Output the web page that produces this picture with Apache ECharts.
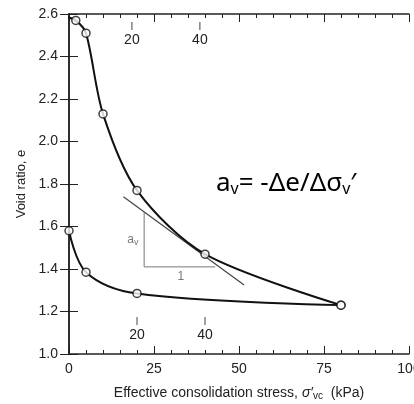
<!DOCTYPE html>
<html>
<head>
<meta charset="utf-8">
<script src="https://cdn.jsdelivr.net/npm/echarts@6/dist/echarts.min.js"></script>
<style>
  html, body { margin: 0; padding: 0; background: #fff; }
  #chart { width: 414px; height: 404px; }
</style>
</head>
<body>
<div id="chart"></div>
<script>
// loading branch (circles) and where the drawn curve starts
const loadStress = [2, 5, 10, 20, 40, 80];
const loadVoid = [2.57, 2.51, 2.13, 1.77, 1.47, 1.23];
const loadCurveStart = [-0.5, 2.585];

// unloading branch
const unloadStress = [80, 20, 5, 0];
const unloadVoid = [1.23, 1.285, 1.385, 1.58];

// tangent at 40 kPa and the slope triangle
const tangentStress = [16, 51.5];
const tangentVoid = [1.74, 1.325];
const triangleStress = [22.1, 22.1, 43];
const triangleVoid = [1.669, 1.41, 1.41];

// little stress markers drawn inside the frame
const topMarks = [18.5, 38.5];
const bottomMarks = [20, 40];

const xTicks = { min: 0, max: 100, interval: 25 };
const yTicks = { min: 1.0, max: 2.6, interval: 0.2 };

const zip = (a, b) => a.map((v, i) => [v, b[i]]);

const chart = echarts.init(document.getElementById('chart'));

const font = 'Liberation Sans, Arial, sans-serif';
const axisColor = '#222';

function markSeries(values, top) {
    return {
        type: 'custom',
        data: values.map(v => [v]),
        silent: true,
        z: 5,
        renderItem: (params, api) => {
            const x = api.value(0);
            const ref = api.coord([x, top ? yTicks.max : yTicks.min]);
            const y1 = top ? ref[1] + 8 : ref[1] - 37;
            const y2 = top ? ref[1] + 16 : ref[1] - 29;
            const yl = top ? ref[1] + 26 : ref[1] - 19;
            return {
                type: 'group',
                children: [
                    { type: 'line', shape: { x1: ref[0], y1: y1, x2: ref[0], y2: y2 }, style: { stroke: '#444', lineWidth: 1 } },
                    { type: 'text', x: ref[0], y: yl, style: { text: String(Math.round(x / 10) * 10), fontSize: 14, fontFamily: font, fill: axisColor, align: 'center', verticalAlign: 'middle' } }
                ]
            };
        }
    };
}

const xAxisBase = {
    type: 'value',
    min: xTicks.min,
    max: xTicks.max,
    interval: xTicks.interval,
    splitLine: { show: false },
    axisLine: { lineStyle: { color: axisColor, width: 1.5 } },
    axisTick: { inside: true, length: 8, lineStyle: { color: axisColor, width: 1 } },
    minorTick: { show: true, splitNumber: 5, length: 4, lineStyle: { color: axisColor, width: 1 } },
};

const yAxisBase = {
    type: 'value',
    min: yTicks.min,
    max: yTicks.max,
    interval: yTicks.interval,
    splitLine: { show: false },
    axisLine: { lineStyle: { color: axisColor, width: 1.5 } },
    axisTick: { inside: true, length: 9, lineStyle: { color: axisColor, width: 1 } },
};

const option = {
    backgroundColor: '#fff',
    animation: false,
    grid: { left: 69, right: 5, top: 14, bottom: 50, outerBoundsMode: 'none', containLabel: false },
    xAxis: [
        {
            ...xAxisBase,
            position: 'bottom',
            name: '{n|Effective consolidation stress, }{s|σ′}{sub|vc}{n|  (kPa)}',
            nameLocation: 'middle',
            nameGap: 31,
            nameTextStyle: {
                rich: {
                    n: { fontSize: 14, fontFamily: font, color: axisColor },
                    s: { fontSize: 14, fontFamily: font, fontStyle: 'italic', color: axisColor },
                    sub: { fontSize: 10, fontFamily: font, color: axisColor, verticalAlign: 'bottom', padding: [6, 0, 0, 0] }
                }
            },
            axisLabel: { fontSize: 14, fontFamily: font, color: axisColor, margin: 8, formatter: v => String(v) },
        },
        {
            ...xAxisBase,
            position: 'top',
            axisLabel: { show: false },
        }
    ],
    yAxis: [
        {
            ...yAxisBase,
            position: 'left',
            name: 'Void ratio, e',
            nameLocation: 'middle',
            nameGap: 40,
            nameTextStyle: { fontSize: 13, fontFamily: font, color: axisColor },
            axisLabel: { fontSize: 14, fontFamily: font, color: axisColor, margin: 11, formatter: v => v.toFixed(1) },
        },
        {
            ...yAxisBase,
            position: 'right',
            axisLabel: { show: false },
        }
    ],
    series: [
        {
            name: 'loading',
            type: 'line',
            data: [loadCurveStart].concat(zip(loadStress, loadVoid)),
            smooth: 0.3,
            showSymbol: false,
            lineStyle: { color: '#111', width: 2 },
            z: 3,
        },
        {
            name: 'unloading',
            type: 'line',
            data: zip(unloadStress, unloadVoid),
            smooth: 0.35,
            showSymbol: false,
            lineStyle: { color: '#111', width: 2 },
            z: 3,
        },
        {
            name: 'tangent',
            type: 'line',
            data: zip(tangentStress, tangentVoid),
            showSymbol: false,
            lineStyle: { color: '#444', width: 1.2 },
            z: 2,
        },
        {
            name: 'triangle',
            type: 'line',
            data: zip(triangleStress, triangleVoid),
            showSymbol: false,
            lineStyle: { color: '#777', width: 1 },
            z: 2,
        },
        {
            name: 'points',
            type: 'scatter',
            data: zip(loadStress, loadVoid).concat(zip(unloadStress, unloadVoid)),
            symbol: 'circle',
            symbolSize: 8,
            itemStyle: { color: '#fff', borderColor: '#111', borderWidth: 1.5 },
            z: 4,
        },
        {
            name: 'triangle labels',
            type: 'scatter',
            data: [[18.8, 1.536, 'av'], [32.9, 1.362, '1']],
            symbolSize: 0,
            label: {
                show: true,
                position: 'inside',
                formatter: p => p.value[2] === 'av' ? 'a{s|v}' : '1',
                fontSize: 12,
                fontFamily: font,
                color: '#555',
                rich: { s: { fontSize: 9, color: '#555', verticalAlign: 'bottom', padding: [5, 0, 0, 0] } }
            },
            z: 4,
        },
        markSeries(topMarks, true),
        markSeries(bottomMarks, false),
    ],
    graphic: [
        {
            type: 'text',
            left: 216,
            top: 171,
            style: {
                text: 'a{s|v}= -Δe/Δσ{s|v}′',
                fontSize: 26,
                fontFamily: 'Noto Sans, DejaVu Sans, sans-serif',
                fill: '#000',
                rich: {
                    s: { fontSize: 16, fontFamily: 'Noto Sans, DejaVu Sans, sans-serif', fill: '#000', verticalAlign: 'bottom', padding: [10, 0, 0, 0] }
                }
            }
        }
    ]
};

chart.setOption(option);
</script>
</body>
</html>
